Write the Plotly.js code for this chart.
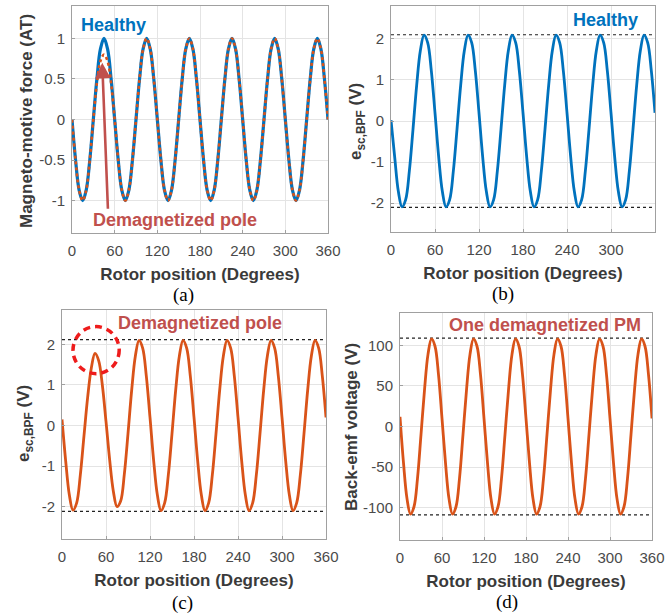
<!DOCTYPE html>
<html>
<head>
<meta charset="utf-8">
<script src="https://cdn.plot.ly/plotly-3.0.1.min.js"></script>
<style>html,body{margin:0;padding:0;background:#fff;}#chart{width:665px;height:614px;}</style>
</head>
<body>
<div id="chart"></div>
<script>
// Rotor position (degrees), sampled every 5 degrees
const rotorDeg = [0,5,10,15,20,25,30,35,40,45,50,55,60,65,70,75,80,85,90,95,100,105,110,115,120,125,130,135,140,145,150,155,160,165,170,175,180,185,190,195,200,205,210,215,220,225,230,235,240,245,250,255,260,265,270,275,280,285,290,295,300,305,310,315,320,325,330,335,340,345,350,355,360];

// (a) Magneto-motive force (AT)
const mmfHealthy = [0,-0.5,-0.87,-1,-0.87,-0.5,0,0.5,0.87,1,0.87,0.5,
  0,-0.5,-0.87,-1,-0.87,-0.5,0,0.5,0.87,1,0.87,0.5,
  0,-0.5,-0.87,-1,-0.87,-0.5,0,0.5,0.87,1,0.87,0.5,
  0,-0.5,-0.87,-1,-0.87,-0.5,0,0.5,0.87,1,0.87,0.5,
  0,-0.5,-0.87,-1,-0.87,-0.5,0,0.5,0.87,1,0.87,0.5,
  0,-0.5,-0.87,-1,-0.87,-0.5,0,0.5,0.87,1,0.87,0.5,0];
const mmfDemag = [0,-0.5,-0.87,-1,-0.87,-0.5,0,0.45,0.72,0.8,0.72,0.45,
  0,-0.5,-0.87,-1,-0.87,-0.5,0,0.5,0.87,1,0.87,0.5,
  0,-0.5,-0.87,-1,-0.87,-0.5,0,0.5,0.87,1,0.87,0.5,
  0,-0.5,-0.87,-1,-0.87,-0.5,0,0.5,0.87,1,0.87,0.5,
  0,-0.5,-0.87,-1,-0.87,-0.5,0,0.5,0.87,1,0.87,0.5,
  0,-0.5,-0.87,-1,-0.87,-0.5,0,0.5,0.87,1,0.87,0.5,0];

// (b) e_sc,BPF healthy (V)
const escHealthy = [0.02,-0.87,-1.71,-2.09,-1.91,-1.22,-0.2,0.87,1.71,2.09,1.91,1.22,
  0.2,-0.87,-1.71,-2.09,-1.91,-1.22,-0.2,0.87,1.71,2.09,1.91,1.22,
  0.2,-0.87,-1.71,-2.09,-1.91,-1.22,-0.2,0.87,1.71,2.09,1.91,1.22,
  0.2,-0.87,-1.71,-2.09,-1.91,-1.22,-0.2,0.87,1.71,2.09,1.91,1.22,
  0.2,-0.87,-1.71,-2.09,-1.91,-1.22,-0.2,0.87,1.71,2.09,1.91,1.22,
  0.2,-0.87,-1.71,-2.09,-1.91,-1.22,-0.2,0.87,1.71,2.09,1.91,1.22,0.2];
const escHealthyRef = [2.1,-2.1];

// (c) e_sc,BPF with a demagnetized pole (V)
const escDemag = [0.15,-0.87,-1.71,-2.09,-1.91,-1.22,-0.25,0.7,1.42,1.78,1.6,1.0,
  0.1,-0.85,-1.62,-2.0,-1.86,-1.2,-0.2,0.87,1.71,2.1,1.91,1.22,
  0.2,-0.87,-1.71,-2.1,-1.91,-1.22,-0.2,0.87,1.71,2.1,1.91,1.22,
  0.2,-0.87,-1.71,-2.1,-1.91,-1.22,-0.2,0.87,1.71,2.1,1.91,1.22,
  0.2,-0.87,-1.71,-2.1,-1.91,-1.22,-0.2,0.87,1.71,2.1,1.91,1.22,
  0.2,-0.87,-1.71,-2.1,-1.91,-1.22,-0.2,0.87,1.71,2.1,1.91,1.22,0.2];
const escDemagRef = [2.12,-2.12];

// (d) Back-emf voltage with one demagnetized PM (V)
const backEmf = [12,-45,-89,-108,-99,-64,-10,45,89,108,99,64,
  10,-45,-89,-108,-99,-64,-10,45,89,108,99,64,
  10,-45,-89,-108,-99,-64,-10,45,89,108,99,64,
  10,-45,-89,-108,-99,-64,-10,45,89,108,99,64,
  10,-45,-89,-108,-99,-64,-10,45,89,108,99,64,
  10,-45,-89,-108,-99,-64,-10,45,89,108,99,64,10];
const backEmfRef = [109,-109];

const refX = [0,360];
const xTicks = [0,60,120,180,240,300,360];
const yTicksA = [-1,-0.5,0,0.5,1];
const yTextA = ['-1','-0.5','0','0.5','1'];
const yTicksBC = [-2,-1,0,1,2];
const yTextBC = ['-2','-1','0','1','2'];
const yTicksD = [-100,-50,0,50,100];
const yTextD = ['-100','-50','0','50','100'];

const BLUE = '#0072BD', ORANGE = '#D95319', RED_TXT = '#C0504D';

function refTraces(levels, xa, ya){
  return levels.map(v => ({x: refX, y: [v, v], xaxis: xa, yaxis: ya, mode: 'lines',
    line: {color: '#222', width: 1.2, dash: 'dot'}, hoverinfo: 'skip'}));
}

const traces = [
  {x: rotorDeg, y: mmfHealthy, xaxis: 'x', yaxis: 'y', mode: 'lines', line: {color: BLUE, width: 3.2, shape: 'spline'}},
  {x: rotorDeg, y: mmfDemag, xaxis: 'x', yaxis: 'y', mode: 'lines', line: {color: ORANGE, width: 2.6, dash: 'dot', shape: 'spline'}},
  ...refTraces(escHealthyRef, 'x2', 'y2'),
  {x: rotorDeg, y: escHealthy, xaxis: 'x2', yaxis: 'y2', mode: 'lines', line: {color: BLUE, width: 2.8, shape: 'spline'}},
  ...refTraces(escDemagRef, 'x3', 'y3'),
  {x: rotorDeg, y: escDemag, xaxis: 'x3', yaxis: 'y3', mode: 'lines', line: {color: ORANGE, width: 2.8, shape: 'spline'}},
  ...refTraces(backEmfRef, 'x4', 'y4'),
  {x: rotorDeg, y: backEmf, xaxis: 'x4', yaxis: 'y4', mode: 'lines', line: {color: ORANGE, width: 2.8, shape: 'spline'}}
];

const W = 665, H = 614;
const px = v => v / W, py = v => 1 - v / H;

const FAM = 'Liberation Sans, Arial, sans-serif';
const tickFont = {family: FAM, size: 15, color: '#4a4a4a'};
const titleFont = {family: FAM, size: 17, color: '#3a3a3a', weight: 'bold'};

function xAxis(dom, anchor){
  return {domain: dom, anchor: anchor, range: [0,360], tickvals: xTicks, ticktext: xTicks.map(String),
    showgrid: true, gridcolor: '#e4e4e4', zeroline: false, showline: true, mirror: true,
    linecolor: '#a0a0a0', linewidth: 1, ticks: 'inside', ticklen: 3, tickcolor: '#a0a0a0',
    tickfont: tickFont, ticklabelstandoff: 4,
    title: {text: 'Rotor position (Degrees)', font: titleFont, standoff: 10}};
}
function yAxis(dom, anchor, range, vals, texts){
  return {domain: dom, anchor: anchor, range: range, tickvals: vals, ticktext: texts,
    showgrid: true, gridcolor: '#e4e4e4', zeroline: false, showline: true, mirror: true,
    linecolor: '#a0a0a0', linewidth: 1, ticks: 'inside', ticklen: 3, tickcolor: '#a0a0a0',
    tickfont: tickFont, ticklabelstandoff: 3};
}

const annFont = (c) => ({family: FAM, size: 18, color: c, weight: 'bold'});
const capFont = {family: 'Liberation Serif, Times New Roman, serif', size: 19, color: '#000'};
const label = (x, y, text, font) => ({xref: 'paper', yref: 'paper', x: px(x), y: py(y), text: text,
  showarrow: false, xanchor: 'center', yanchor: 'middle', font: font});
const yTitle = (x, y, text) => Object.assign(label(x, y, text, titleFont), {textangle: -90});

const layout = {
  width: W, height: H,
  margin: {l: 0, r: 0, t: 0, b: 0},
  paper_bgcolor: '#fff', plot_bgcolor: '#fff',
  showlegend: false,
  xaxis: xAxis([px(72), px(328)], 'y'),
  yaxis: yAxis([py(233), py(6)], 'x', [-1.4, 1.4], yTicksA, yTextA),
  xaxis2: xAxis([px(391), px(655)], 'y2'),
  yaxis2: yAxis([py(232), py(6)], 'x2', [-2.7, 2.8], yTicksBC, yTextBC),
  xaxis3: xAxis([px(62), px(326)], 'y3'),
  yaxis3: yAxis([py(539), py(310)], 'x3', [-2.8, 2.85], yTicksBC, yTextBC),
  xaxis4: xAxis([px(400), px(652)], 'y4'),
  yaxis4: yAxis([py(540), py(313)], 'x4', [-140, 140], yTicksD, yTextD),
  shapes: [
    {type: 'circle', xref: 'x3', yref: 'y3', x0: 15, x1: 78, y0: 1.28, y1: 2.44,
     line: {color: '#EE1C1C', width: 3.5, dash: '7px,5px'}}
  ],
  annotations: [
    yTitle(27, 121, 'Magneto-motive force (AT)'),
    yTitle(357, 122, 'e<sub>sc,BPF</sub> (V)'),
    yTitle(25, 424, 'e<sub>sc,BPF</sub> (V)'),
    yTitle(351, 427, 'Back-emf voltage (V)'),
    label(113, 25, 'Healthy', annFont(BLUE)),
    label(175, 220, 'Demagnetized pole', annFont(RED_TXT)),
    {xref: 'x', yref: 'y', x: 42.5, y: 0.7, ax: 50.6, ay: -1.12, axref: 'x', ayref: 'y', text: '', showarrow: true,
     arrowhead: 2, arrowsize: 1.2, arrowwidth: 2.6, arrowcolor: RED_TXT},
    label(605, 20, 'Healthy', annFont(BLUE)),
    label(200, 323, 'Demagnetized pole', annFont(RED_TXT)),
    label(545, 325, 'One demagnetized PM', annFont(RED_TXT)),
    label(183, 295, '(a)', capFont),
    label(503, 294, '(b)', capFont),
    label(182, 603, '(c)', capFont),
    label(507, 602, '(d)', capFont)
  ]
};

Plotly.newPlot('chart', traces, layout, {displayModeBar: false, staticPlot: true});
</script>
</body>
</html>
